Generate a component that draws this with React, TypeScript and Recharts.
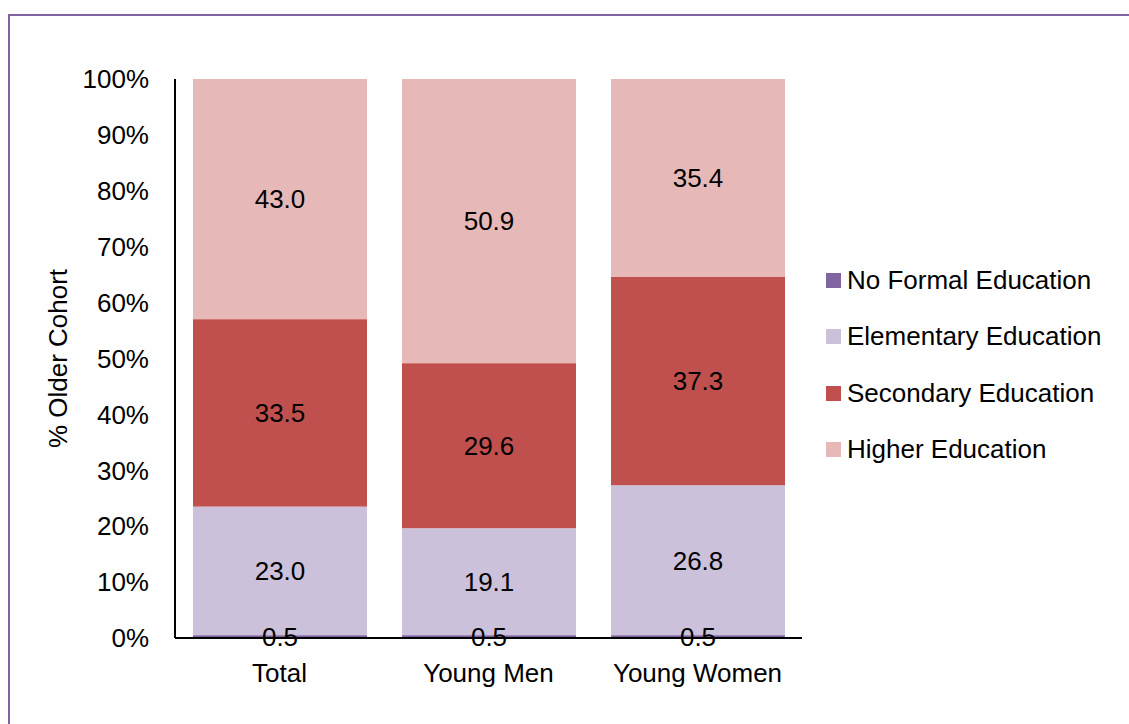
import React from "react";
import {
  BarChart,
  Bar,
  XAxis,
  YAxis,
  Legend,
  LabelList,
} from "recharts";

const categories = ["Total", "Young Men", "Young Women"];
const noFormal = [0.5, 0.5, 0.5];
const elementary = [23.0, 19.1, 26.8];
const secondary = [33.5, 29.6, 37.3];
const higher = [43.0, 50.9, 35.4];
const yTicks = [0, 0.1, 0.2, 0.3, 0.4, 0.5, 0.6, 0.7, 0.8, 0.9, 1];

const seriesNames = [
  "No Formal Education",
  "Elementary Education",
  "Secondary Education",
  "Higher Education",
];

const colors: Record<string, string> = {
  "No Formal Education": "#8064A2",
  "Elementary Education": "#CCC1DA",
  "Secondary Education": "#C0504D",
  "Higher Education": "#E6B9B8",
};

const data = categories.map((name, i) => ({
  name,
  noFormal: noFormal[i],
  elementary: elementary[i],
  secondary: secondary[i],
  higher: higher[i],
}));

const FONT = "'Liberation Sans', Arial, sans-serif";

const LegendContent = () => (
  <div style={{ fontFamily: FONT }}>
    {seriesNames.map((n) => (
      <div
        key={n}
        style={{ display: "flex", alignItems: "center", height: 56.5 }}
      >
        <span
          style={{
            display: "inline-block",
            width: 15,
            height: 15,
            backgroundColor: colors[n],
            marginRight: 6,
          }}
        />
        <span style={{ fontSize: 26, color: "#000" }}>{n}</span>
      </div>
    ))}
  </div>
);

const fmt = (v: unknown) => Number(v).toFixed(1);

export default function App() {
  const labelStyle = { fontSize: 26, fill: "#000", fontFamily: FONT };
  return (
    <div
      style={{
        position: "absolute",
        left: 0,
        top: 0,
        width: 1129,
        height: 724,
        overflow: "hidden",
        background: "#fff",
      }}
    >
      <div
        style={{
          position: "absolute",
          left: 8,
          top: 14,
          width: 1200,
          height: 800,
          border: "2px solid #8064A2",
        }}
      />
      <div style={{ position: "absolute", left: 0, top: 0 }}>
        <BarChart
          width={1129}
          height={724}
          data={data}
          stackOffset="expand"
          reverseStackOrder
          margin={{ top: 79, right: 327, bottom: 46, left: 40 }}
        >
          <XAxis
            dataKey="name"
            height={40}
            interval={0}
            tickLine={false}
            tickMargin={20}
            axisLine={{ stroke: "#000", strokeWidth: 2 }}
            tick={{ fontSize: 26, fill: "#000", fontFamily: FONT }}
          />
          <YAxis
            width={135}
            domain={[0, 1]}
            ticks={yTicks}
            tickFormatter={(v: number) => `${Math.round(v * 100)}%`}
            tickLine={false}
            tickMargin={20}
            axisLine={{ stroke: "#000", strokeWidth: 2 }}
            tick={{ fontSize: 26, fill: "#000", fontFamily: FONT }}
            label={{
              value: "% Older Cohort",
              angle: -90,
              position: "insideLeft",
              offset: 18,
              style: {
                textAnchor: "middle",
                fontSize: 26,
                fill: "#000",
                fontFamily: FONT,
              },
            }}
          />
          <Legend
            layout="horizontal"
            align="center"
            verticalAlign="middle"
            content={<LegendContent />}
            wrapperStyle={{ left: 826, top: 252, width: 300 }}
          />
          <Bar
            dataKey="higher"
            name="Higher Education"
            stackId="a"
            fill={colors["Higher Education"]}
            barSize={174}
            isAnimationActive={false}
          >
            <LabelList dataKey="higher" position="center" formatter={fmt} style={labelStyle} />
          </Bar>
          <Bar
            dataKey="secondary"
            name="Secondary Education"
            stackId="a"
            fill={colors["Secondary Education"]}
            barSize={174}
            isAnimationActive={false}
          >
            <LabelList dataKey="secondary" position="center" formatter={fmt} style={labelStyle} />
          </Bar>
          <Bar
            dataKey="elementary"
            name="Elementary Education"
            stackId="a"
            fill={colors["Elementary Education"]}
            barSize={174}
            isAnimationActive={false}
          >
            <LabelList dataKey="elementary" position="center" formatter={fmt} style={labelStyle} />
          </Bar>
          <Bar
            dataKey="noFormal"
            name="No Formal Education"
            stackId="a"
            fill={colors["No Formal Education"]}
            barSize={174}
            isAnimationActive={false}
          >
            <LabelList dataKey="noFormal" position="center" formatter={fmt} style={labelStyle} />
          </Bar>
        </BarChart>
      </div>
    </div>
  );
}
